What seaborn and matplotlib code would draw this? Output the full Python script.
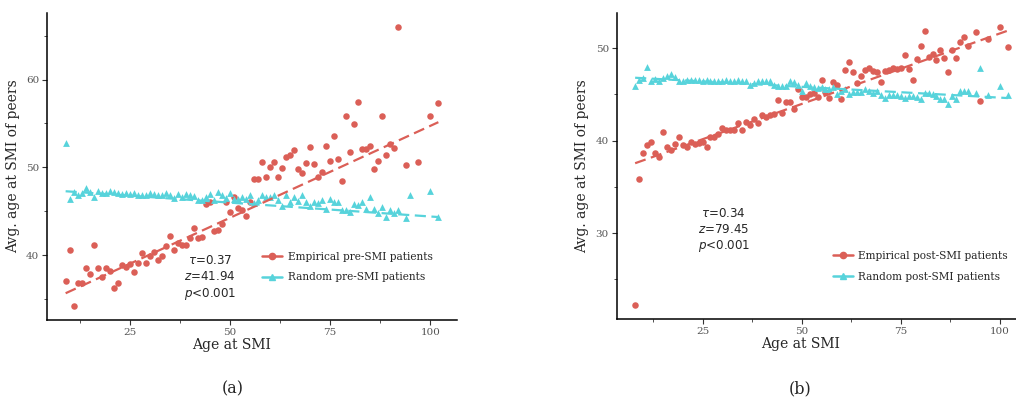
import numpy as np
import pandas as pd
import matplotlib
matplotlib.use("Agg")
import matplotlib.pyplot as plt
from matplotlib.lines import Line2D
from matplotlib.ticker import MultipleLocator
import seaborn as sns

# ---------------- data ----------------
ages_pre_emp = list(range(9, 93)) + [94, 97, 100, 102]
emp_pre = [37.07, 40.6, 34.2, 36.85, 36.8, 38.5, 37.9, 41.1, 38.55, 37.5,
           38.5, 38.2, 36.3, 36.8, 38.9, 38.6, 39.0, 38.1, 39.1, 40.2,
           39.05, 39.9, 40.4, 39.5, 39.9, 41.0, 42.2, 40.6, 41.4, 41.2,
           41.2, 42.0, 43.1, 42.0, 42.05, 45.8, 46.1, 42.7, 42.9, 43.5,
           46.1, 44.9, 46.6, 45.4, 45.2, 44.5, 46.1, 48.7, 48.7, 50.6,
           48.9, 50.1, 50.6, 48.9, 49.95, 51.15, 51.4, 51.95, 49.85, 49.4,
           50.5, 52.3, 50.4, 48.9, 49.5, 52.45, 50.7, 53.6, 50.95, 48.5,
           55.9, 51.8, 54.9, 57.45, 52.1, 52.1, 52.4, 49.8, 50.7, 55.9,
           51.45, 52.7, 52.2, 66.0, 50.3, 50.6, 55.85, 57.3]

ages_pre_rnd = list(range(9, 93)) + [94, 95, 100, 102]
rnd_pre = [52.8, 46.4, 47.2, 46.9, 47.1, 47.7, 47.2, 46.6, 47.3, 47.1,
           47.1, 47.3, 47.2, 47.1, 47.0, 47.1, 47.0, 47.1, 46.8, 46.8,
           46.9, 47.1, 47.0, 46.9, 46.9, 47.1, 46.9, 46.5, 47.0, 46.6,
           47.0, 46.9, 46.7, 46.3, 46.25, 46.6, 47.0, 46.25, 47.2, 46.9,
           46.5, 47.1, 46.4, 46.4, 46.6, 46.4, 46.9, 45.9, 46.25, 46.8,
           46.6, 46.6, 46.9, 46.3, 45.6, 46.8, 46.1, 46.6, 46.2, 46.8,
           46.1, 45.6, 46.1, 45.9, 46.25, 45.3, 46.4, 46.05, 46.05, 45.2,
           45.1, 44.95, 45.8, 45.75, 46.0, 45.3, 46.6, 45.3, 44.8, 45.5,
           44.3, 45.2, 44.8, 45.1, 44.2, 46.9, 47.3, 44.3]

ages_post_emp = list(range(8, 93)) + [94, 95, 97, 100, 102]
emp_post = [22.2, 35.8, 38.7, 39.5, 39.9, 38.7, 38.2, 40.9, 39.3, 38.95,
            39.6, 40.4, 39.5, 39.3, 39.8, 39.6, 39.7, 39.8, 39.35, 40.4,
            40.4, 40.7, 41.4, 41.15, 41.1, 41.1, 41.9, 41.1, 42.0, 41.7,
            42.35, 41.9, 42.8, 42.6, 42.8, 42.9, 44.4, 43.0, 44.2, 44.2,
            43.4, 45.6, 44.7, 44.75, 45.0, 45.2, 44.75, 46.6, 45.3, 44.6,
            46.3, 46.0, 44.5, 47.6, 48.55, 47.4, 46.2, 47.0, 47.65, 47.8,
            47.5, 47.4, 46.3, 47.5, 47.65, 47.9, 47.7, 47.9, 49.3, 47.7,
            46.6, 48.8, 50.2, 51.9, 49.0, 49.4, 48.7, 49.75, 48.9, 47.4,
            49.8, 48.9, 50.7, 51.2, 50.25, 51.7, 44.3, 51.0, 52.3, 50.1]

ages_post_rnd = list(range(8, 93)) + [94, 95, 97, 100, 102]
rnd_post = [45.9, 46.6, 46.8, 48.0, 46.5, 46.7, 46.5, 46.75, 47.0, 47.2,
            46.9, 46.5, 46.4, 46.55, 46.6, 46.55, 46.6, 46.5, 46.55, 46.45,
            46.5, 46.4, 46.45, 46.6, 46.5, 46.45, 46.55, 46.5, 46.45, 46.0,
            46.2, 46.5, 46.4, 46.5, 46.4, 46.0, 45.9, 45.9, 45.9, 46.5,
            46.3, 46.0, 45.4, 46.2, 45.9, 45.8, 45.7, 45.8, 45.6, 45.6,
            45.8, 45.05, 45.4, 45.6, 45.05, 45.3, 45.3, 45.3, 45.6, 45.4,
            45.2, 45.4, 44.95, 44.6, 44.95, 44.95, 44.95, 44.8, 44.6, 44.8,
            44.8, 44.7, 44.5, 45.2, 45.2, 45.05, 44.8, 44.5, 44.5, 44.0,
            44.8, 44.5, 45.4, 45.4, 45.4, 45.1, 47.8, 44.95, 45.9, 44.95]

# trend lines (values at the ends of each fit)
trend_pre_x = [9, 102]
trend_pre_emp = [35.66, 55.15]
trend_pre_rnd = [47.28, 44.34]
trend_post_x = [8, 102]
trend_post_emp = [37.55, 51.9]
trend_post_rnd = [46.8, 44.6]

labels_pre = ["Empirical pre-SMI patients", "Random pre-SMI patients"]
labels_post = ["Empirical post-SMI patients", "Random post-SMI patients"]
stats_pre = r"$\tau$=0.37" + "\n" + r"$z$=41.94" + "\n" + r"$p$<0.001"
stats_post = r"$\tau$=0.34" + "\n" + r"$z$=79.45" + "\n" + r"$p$<0.001"
xlabel = "Age at SMI"
ylabel = "Avg. age at SMI of peers"

# ---------------- style ----------------
sns.set_theme(style="ticks")
plt.rcParams["font.family"] = ["DejaVu Serif"]
plt.rcParams["mathtext.fontset"] = "dejavusans"
pal = sns.color_palette("hls", 8)
RED, CYAN = pal[0], pal[4]

fig = plt.figure(figsize=(10.16, 4.01), dpi=100)
W, H = 1016, 401
ax1 = fig.add_axes([47 / W, 1 - 320 / H, 410 / W, 307 / H])
ax2 = fig.add_axes([616.5 / W, 1 - 319 / H, 410 / W, 306 / H])


def panel(ax, xe, ye, xr, yr, tx, te, tr, labels, stats, stats_pos,
          leg_pos, yticks):
    de = pd.DataFrame({"x": xe, "y": ye})
    dr = pd.DataFrame({"x": xr, "y": yr})
    sns.scatterplot(data=de, x="x", y="y", ax=ax, color=RED, marker="o",
                    s=22, linewidth=0, zorder=3)
    sns.scatterplot(data=dr, x="x", y="y", ax=ax, color=CYAN, marker="^",
                    s=24, linewidth=0, zorder=3)
    for ty, c in ((te, RED), (tr, CYAN)):
        fit = pd.DataFrame({"x": tx, "y": ty})
        sns.lineplot(data=fit, x="x", y="y", ax=ax, color=c, lw=1.6,
                     ls=(0, (5, 2.5)), zorder=4)
    ax.margins(0.05)
    ax.set_xlabel(xlabel, fontsize=10)
    ax.set_ylabel(ylabel, fontsize=10)
    ax.xaxis.set_label_coords(0.449, -0.06)
    ax.yaxis.set_label_coords(-0.066, 0.5)
    ax.xaxis.set_major_locator(MultipleLocator(25))
    ax.xaxis.set_minor_locator(MultipleLocator(12.5))
    ax.set_yticks(yticks)
    ax.yaxis.set_minor_locator(MultipleLocator(5))
    ax.tick_params(which="major", length=3.5, width=0.8, labelsize=7.5,
                   labelcolor="#555555", color="#333333", pad=2)
    ax.tick_params(which="minor", length=2, width=0.6, color="#333333")
    for s in ["top", "right"]:
        ax.spines[s].set_visible(False)
    for s in ["left", "bottom"]:
        ax.spines[s].set_linewidth(1.1)
        ax.spines[s].set_color("black")
    ax.text(stats_pos[0], stats_pos[1], stats, transform=ax.transAxes,
            ha="center", va="center", fontsize=8.6, family="DejaVu Sans",
            linespacing=1.25)
    handles = [Line2D([], [], color=RED, marker="o", ms=4.5, lw=1.8),
               Line2D([], [], color=CYAN, marker="^", ms=4.5, lw=1.8)]
    ax.legend(handles, labels, loc="upper left", bbox_to_anchor=leg_pos,
              frameon=False, fontsize=7.6, handlelength=1.9,
              handletextpad=0.5, labelspacing=1.0, borderpad=0,
              borderaxespad=0)


panel(ax1, ages_pre_emp, emp_pre, ages_pre_rnd, rnd_pre,
      trend_pre_x, trend_pre_emp, trend_pre_rnd, labels_pre,
      stats_pre, (0.398, 0.137), (0.525, 0.222), [40, 50, 60])
panel(ax2, ages_post_emp, emp_post, ages_post_rnd, rnd_post,
      trend_post_x, trend_post_emp, trend_post_rnd, labels_post,
      stats_post, (0.262, 0.288), (0.528, 0.222), [30, 40, 50])

fig.text(233 / W, 1 - 389 / H, "(a)", ha="center", va="center", fontsize=11.5)
fig.text(800 / W, 1 - 389 / H, "(b)", ha="center", va="center", fontsize=11.5)

fig.savefig("out.png", dpi=100)
